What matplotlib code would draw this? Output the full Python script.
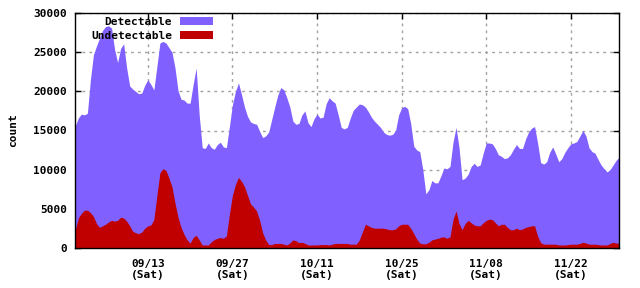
import numpy as np
import matplotlib
matplotlib.use("Agg")
import matplotlib.pyplot as plt

# half-day samples from 09/01 to 11/30 (values in counts)
detectable_k = [
    15.6, 16.6, 17.1, 17.0, 17.2, 21.5, 24.7, 25.8, 26.8, 27.8,
    28.3, 28.4, 28.1, 25.4, 23.7, 25.5, 26.1, 23.0, 20.7, 20.3,
    20.0, 19.7, 19.8, 20.8, 21.5, 20.9, 20.2, 23.2, 26.2, 26.4,
    26.2, 25.6, 25.0, 23.0, 20.1, 19.0, 18.9, 18.5, 18.5, 20.9,
    23.0, 17.0, 12.8, 12.7, 13.4, 12.8, 12.6, 13.2, 13.5, 12.9,
    12.8, 15.5, 18.3, 20.0, 21.1, 19.6, 18.0, 16.8, 16.1, 15.9,
    15.8, 14.9, 14.1, 14.3, 14.8, 16.4, 18.0, 19.5, 20.5, 20.2,
    19.2, 18.0, 16.2, 15.8, 15.9, 17.0, 17.5, 16.0, 15.5, 16.5,
    17.1, 16.6, 16.7, 18.4, 19.2, 18.8, 18.5, 17.0, 15.4, 15.2,
    15.4, 16.6, 17.6, 18.0, 18.4, 18.3, 18.0, 17.4, 16.7, 16.2,
    15.8, 15.4, 14.8, 14.5, 14.4, 14.5, 15.0, 17.0, 17.9, 18.1,
    17.8, 15.9, 13.0, 12.5, 12.3, 10.0, 6.9, 7.4, 8.6, 8.3,
    8.3, 9.2, 10.2, 10.1, 10.4, 13.5, 15.4, 12.8, 8.7, 8.9,
    9.4, 10.4, 10.8, 10.4, 10.6, 12.1, 13.4, 13.4, 13.3, 12.7,
    11.9, 11.7, 11.4, 11.5, 11.9, 12.6, 13.2, 12.7, 12.7, 13.9,
    14.8, 15.3, 15.5, 13.4, 10.9, 10.7, 11.0, 12.2, 12.9, 12.0,
    11.0, 11.4, 12.2, 12.8, 13.3, 13.4, 13.6, 14.3, 15.0, 14.3,
    12.8, 12.3, 12.1, 11.3, 10.6, 10.1, 9.7, 10.0, 10.6, 11.2, 11.6,
]
undetectable_k = [
    2.3, 3.8, 4.4, 4.8, 4.8, 4.5, 4.0, 3.1, 2.6, 2.8,
    3.0, 3.3, 3.5, 3.4, 3.5, 3.9, 3.8, 3.4, 2.8, 2.1,
    1.9, 1.8, 2.0, 2.5, 2.8, 2.9, 3.6, 6.7, 9.6, 10.1,
    9.9, 8.9, 7.8, 5.7, 3.9, 2.6, 1.7, 1.0, 0.6, 1.3,
    1.6, 1.0, 0.35, 0.35, 0.35, 0.75, 1.05, 1.2, 1.3, 1.2,
    1.5, 4.3, 6.7, 8.1, 9.0, 8.5, 7.8, 6.7, 5.6, 5.2,
    4.7, 3.5, 1.9, 1.0, 0.4, 0.4, 0.55, 0.55, 0.55, 0.45,
    0.35, 0.6, 1.0, 0.9, 0.65, 0.7, 0.55, 0.35, 0.35, 0.35,
    0.35, 0.4, 0.4, 0.4, 0.35, 0.45, 0.55, 0.55, 0.55, 0.55,
    0.55, 0.45, 0.45, 0.45, 1.0, 2.0, 3.0, 2.8, 2.6, 2.5,
    2.5, 2.5, 2.5, 2.4, 2.3, 2.3, 2.4, 2.8, 3.0, 3.0,
    3.0, 2.5, 1.8, 1.1, 0.6, 0.5, 0.5, 0.7, 1.0, 1.1,
    1.2, 1.35, 1.4, 1.2, 1.4, 3.6, 4.7, 3.1, 2.3, 3.1,
    3.5, 3.2, 2.9, 2.8, 2.8, 3.2, 3.5, 3.65, 3.6, 3.2,
    2.8, 3.0, 3.0, 2.6, 2.3, 2.3, 2.5, 2.3, 2.4, 2.6,
    2.7, 2.8, 2.8, 1.5, 0.65, 0.45, 0.45, 0.45, 0.45, 0.45,
    0.35, 0.35, 0.35, 0.4, 0.45, 0.45, 0.45, 0.55, 0.7, 0.6,
    0.45, 0.45, 0.45, 0.4, 0.35, 0.35, 0.35, 0.55, 0.7, 0.6, 0.55,
]
detectable = [v * 1000 for v in detectable_k]
undetectable = [v * 1000 for v in undetectable_k]

# time in days since 09/01
days = np.arange(len(detectable)) * 0.5

tick_days = [12, 26, 40, 54, 68, 82]
tick_labels = ["09/13\n(Sat)", "09/27\n(Sat)", "10/11\n(Sat)",
               "10/25\n(Sat)", "11/08\n(Sat)", "11/22\n(Sat)"]
y_ticks = [0, 5000, 10000, 15000, 20000, 25000, 30000]

FONT = "DejaVu Sans Mono"
fig = plt.figure(figsize=(6.4, 2.88), dpi=100)
ax = fig.add_axes([75.3 / 640, 1 - 247.7 / 288, (619.2 - 75.3) / 640, (247.7 - 13.3) / 288])

ax.fill_between(days, 0, detectable, color="#8060ff", lw=0, label="Detectable", zorder=2)
ax.fill_between(days, 0, undetectable, color="#c00000", lw=0, label="Undetectable", zorder=3)

ax.set_xlim(0, 90)
ax.set_ylim(0, 30000)
ax.set_xticks(tick_days)
ax.set_xticklabels(tick_labels, fontfamily=FONT, fontweight="bold", fontsize=8, linespacing=1.1)
ax.set_yticks(y_ticks)
ax.set_yticklabels([str(v) for v in y_ticks], fontfamily=FONT, fontweight="bold", fontsize=8)
ax.tick_params(axis="both", direction="in", length=4, width=1, top=True, right=True)
ax.tick_params(axis="x", pad=8)
ax.tick_params(axis="y", pad=6)
ax.grid(True, color="#a0a0a0", linestyle=(0, (2, 3)), linewidth=1, zorder=0)
ax.set_axisbelow(True)
for s in ax.spines.values():
    s.set_linewidth(1.0)
    s.set_zorder(5)

ax.set_ylabel("count", fontfamily=FONT, fontweight="bold", fontsize=8, labelpad=11)

leg = ax.legend(loc="upper right", bbox_to_anchor=(213 / 640, 1 - 17 / 288),
                bbox_transform=fig.transFigure, frameon=False, markerfirst=False,
                handlelength=3.0, handleheight=0.65, handletextpad=0.7,
                labelspacing=0.35, borderpad=0, borderaxespad=0,
                prop={"family": FONT, "weight": "bold", "size": 8})

fig.savefig("out.png", dpi=100)
